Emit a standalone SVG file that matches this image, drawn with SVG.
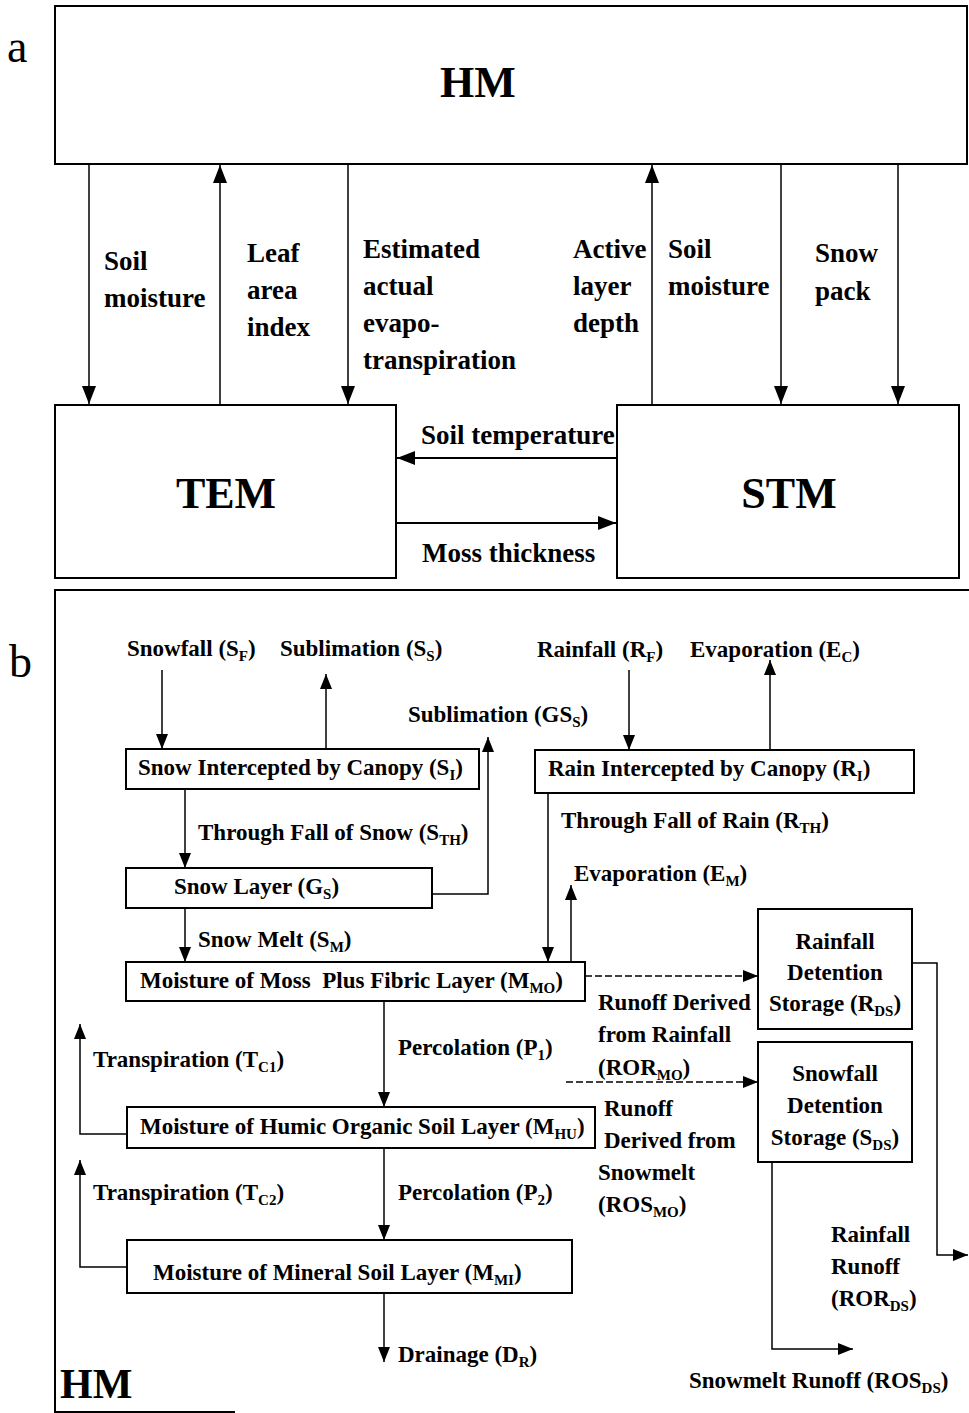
<svg xmlns="http://www.w3.org/2000/svg" width="969" height="1413" viewBox="0 0 969 1413">
<defs>
<style>
.box{fill:#fff;stroke:#000;stroke-width:2}
.ln{fill:none;stroke:#000;stroke-width:1.5}
.dash{fill:none;stroke:#000;stroke-width:1.3;stroke-dasharray:7 3}
.ta{font-family:"Liberation Serif","Times New Roman",serif;font-weight:bold;font-size:27px;fill:#000}
.tb{font-family:"Liberation Serif","Times New Roman",serif;font-weight:bold;font-size:23px;fill:#000}
.big{font-family:"Liberation Serif","Times New Roman",serif;font-weight:bold;font-size:44px;fill:#000}
.lbl{font-family:"Liberation Serif","Times New Roman",serif;font-size:46px;fill:#000}
.sub{font-size:15px}
.mid{text-anchor:middle}
</style>
<marker id="ah" markerUnits="userSpaceOnUse" markerWidth="18" markerHeight="14" refX="18" refY="7" orient="auto"><path d="M0,0 L18,7 L0,14 z" fill="#000"/></marker>
<marker id="bh" markerUnits="userSpaceOnUse" markerWidth="15" markerHeight="12" refX="15" refY="6" orient="auto"><path d="M0,0 L15,6 L0,12 z" fill="#000"/></marker>
</defs>
<rect width="969" height="1413" fill="#fff"/>

<!-- Panel labels -->
<text class="lbl" x="7" y="62">a</text>
<text class="lbl" x="9" y="677">b</text>

<!-- ===== Part a ===== -->
<g id="a-connectors">
<line class="ln" x1="89" y1="165" x2="89" y2="404" marker-end="url(#ah)"/>
<line class="ln" x1="220" y1="404" x2="220" y2="165" marker-end="url(#ah)"/>
<line class="ln" x1="348" y1="165" x2="348" y2="404" marker-end="url(#ah)"/>
<line class="ln" x1="652" y1="404" x2="652" y2="165" marker-end="url(#ah)"/>
<line class="ln" x1="781" y1="165" x2="781" y2="404" marker-end="url(#ah)"/>
<line class="ln" x1="898" y1="165" x2="898" y2="404" marker-end="url(#ah)"/>
<line class="ln" x1="616" y1="458" x2="397" y2="458" marker-end="url(#ah)" style="stroke-width:2"/>
<line class="ln" x1="397" y1="523" x2="616" y2="523" marker-end="url(#ah)" style="stroke-width:2"/>
<text class="ta" x="104" y="270">Soil</text>
<text class="ta" x="104" y="307">moisture</text>
<text class="ta" x="247" y="262">Leaf</text>
<text class="ta" x="247" y="299">area</text>
<text class="ta" x="247" y="336">index</text>
<text class="ta" x="363" y="258">Estimated</text>
<text class="ta" x="363" y="295">actual</text>
<text class="ta" x="363" y="332">evapo-</text>
<text class="ta" x="363" y="369">transpiration</text>
<text class="ta" x="573" y="258">Active</text>
<text class="ta" x="573" y="295">layer</text>
<text class="ta" x="573" y="332">depth</text>
<text class="ta" x="668" y="258">Soil</text>
<text class="ta" x="668" y="295">moisture</text>
<text class="ta" x="815" y="262">Snow</text>
<text class="ta" x="815" y="300">pack</text>
<text class="ta" x="421" y="444">Soil temperature</text>
<text class="ta" x="422" y="562">Moss thickness</text>
</g>

<g id="hm-top">
<rect class="box" x="55" y="6" width="912" height="158"/>
<text class="big mid" x="478" y="97">HM</text>
</g>
<g id="tem">
<rect class="box" x="55" y="405" width="341" height="173"/>
<text class="big mid" x="226" y="508">TEM</text>
</g>
<g id="stm">
<rect class="box" x="617" y="405" width="342" height="173"/>
<text class="big mid" x="789" y="508">STM</text>
</g>

<!-- ===== Part b ===== -->
<g id="b-frame">
<path class="ln" d="M969,590 H55 V1412 H235" style="stroke-width:2"/>
<text class="big" x="60" y="1398" style="font-size:42px">HM</text>
</g>

<g id="b-connectors">
<!-- snow -->
<line class="ln" x1="162" y1="670" x2="162" y2="749" marker-end="url(#bh)"/>
<line class="ln" x1="326" y1="749" x2="326" y2="674" marker-end="url(#bh)"/>
<polyline class="ln" points="432,894 488,894 488,737" marker-end="url(#bh)"/>
<line class="ln" x1="185" y1="789" x2="185" y2="868" marker-end="url(#bh)"/>
<line class="ln" x1="185" y1="908" x2="185" y2="962" marker-end="url(#bh)"/>
<!-- rain -->
<line class="ln" x1="629" y1="670" x2="629" y2="750" marker-end="url(#bh)"/>
<line class="ln" x1="770" y1="750" x2="770" y2="660" marker-end="url(#bh)"/>
<line class="ln" x1="548" y1="793" x2="548" y2="962" marker-end="url(#bh)"/>
<line class="ln" x1="571" y1="962" x2="571" y2="885" marker-end="url(#bh)"/>
<!-- soil -->
<line class="ln" x1="384" y1="1001" x2="384" y2="1107" marker-end="url(#bh)"/>
<line class="ln" x1="384" y1="1148" x2="384" y2="1240" marker-end="url(#bh)"/>
<line class="ln" x1="384" y1="1293" x2="384" y2="1362" marker-end="url(#bh)"/>
<polyline class="ln" points="127,1134 80,1134 80,1024" marker-end="url(#bh)"/>
<polyline class="ln" points="127,1267 80,1267 80,1160" marker-end="url(#bh)"/>
<!-- runoff -->
<line class="dash" x1="585" y1="976" x2="758" y2="976" marker-end="url(#bh)"/>
<line class="dash" x1="566" y1="1082" x2="758" y2="1082" marker-end="url(#bh)"/>
<polyline class="ln" points="912,963 937,963 937,1255 968,1255" marker-end="url(#bh)"/>
<polyline class="ln" points="772,1162 772,1349 853,1349" marker-end="url(#bh)"/>

<!-- labels -->
<text class="tb" x="127" y="656">Snowfall (S<tspan class="sub" dy="5">F</tspan><tspan dy="-5">)</tspan></text>
<text class="tb" x="280" y="656">Sublimation (S<tspan class="sub" dy="5">S</tspan><tspan dy="-5">)</tspan></text>
<text class="tb" x="408" y="722">Sublimation (GS<tspan class="sub" dy="5">S</tspan><tspan dy="-5">)</tspan></text>
<text class="tb" x="198" y="840">Through Fall of Snow (S<tspan class="sub" dy="5">TH</tspan><tspan dy="-5">)</tspan></text>
<text class="tb" x="198" y="947">Snow Melt (S<tspan class="sub" dy="5">M</tspan><tspan dy="-5">)</tspan></text>
<text class="tb" x="537" y="657">Rainfall (R<tspan class="sub" dy="5">F</tspan><tspan dy="-5">)</tspan></text>
<text class="tb" x="690" y="657">Evaporation (E<tspan class="sub" dy="5">C</tspan><tspan dy="-5">)</tspan></text>
<text class="tb" x="561" y="828">Through Fall of Rain (R<tspan class="sub" dy="5">TH</tspan><tspan dy="-5">)</tspan></text>
<text class="tb" x="574" y="881">Evaporation (E<tspan class="sub" dy="5">M</tspan><tspan dy="-5">)</tspan></text>
<text class="tb" x="398" y="1055">Percolation (P<tspan class="sub" dy="5">1</tspan><tspan dy="-5">)</tspan></text>
<text class="tb" x="398" y="1200">Percolation (P<tspan class="sub" dy="5">2</tspan><tspan dy="-5">)</tspan></text>
<text class="tb" x="93" y="1067">Transpiration (T<tspan class="sub" dy="5">C1</tspan><tspan dy="-5">)</tspan></text>
<text class="tb" x="93" y="1200">Transpiration (T<tspan class="sub" dy="5">C2</tspan><tspan dy="-5">)</tspan></text>
<text class="tb" x="398" y="1362">Drainage (D<tspan class="sub" dy="5">R</tspan><tspan dy="-5">)</tspan></text>
<text class="tb" x="598" y="1010">Runoff Derived</text>
<text class="tb" x="598" y="1042">from Rainfall</text>
<text class="tb" x="598" y="1075">(ROR<tspan class="sub" dy="5">MO</tspan><tspan dy="-5">)</tspan></text>
<text class="tb" x="604" y="1116">Runoff</text>
<text class="tb" x="604" y="1148">Derived from</text>
<text class="tb" x="598" y="1180">Snowmelt</text>
<text class="tb" x="598" y="1212">(ROS<tspan class="sub" dy="5">MO</tspan><tspan dy="-5">)</tspan></text>
<text class="tb" x="831" y="1242">Rainfall</text>
<text class="tb" x="831" y="1274">Runoff</text>
<text class="tb" x="831" y="1306">(ROR<tspan class="sub" dy="5">DS</tspan><tspan dy="-5">)</tspan></text>
<text class="tb" x="689" y="1388">Snowmelt Runoff (ROS<tspan class="sub" dy="5">DS</tspan><tspan dy="-5">)</tspan></text>
</g>

<g id="snow-canopy">
<rect class="box" x="126" y="749" width="353" height="40"/>
<text class="tb" x="138" y="775">Snow Intercepted by Canopy (S<tspan class="sub" dy="5">I</tspan><tspan dy="-5">)</tspan></text>
</g>
<g id="snow-layer">
<rect class="box" x="126" y="868" width="306" height="40"/>
<text class="tb" x="174" y="894">Snow Layer (G<tspan class="sub" dy="5">S</tspan><tspan dy="-5">)</tspan></text>
</g>
<g id="rain-canopy">
<rect class="box" x="535" y="750" width="379" height="43"/>
<text class="tb" x="548" y="776">Rain Intercepted by Canopy (R<tspan class="sub" dy="5">I</tspan><tspan dy="-5">)</tspan></text>
</g>
<g id="moss-layer">
<rect class="box" x="126" y="962" width="459" height="39"/>
<text class="tb" x="140" y="988" style="white-space:pre">Moisture of Moss  Plus Fibric Layer (M<tspan class="sub" dy="5">MO</tspan><tspan dy="-5">)</tspan></text>
</g>
<g id="humic-layer">
<rect class="box" x="127" y="1107" width="468" height="41"/>
<text class="tb" x="140" y="1134">Moisture of Humic Organic Soil Layer (M<tspan class="sub" dy="5">HU</tspan><tspan dy="-5">)</tspan></text>
</g>
<g id="mineral-layer">
<rect class="box" x="127" y="1240" width="445" height="53"/>
<text class="tb" x="153" y="1280">Moisture of Mineral Soil Layer (M<tspan class="sub" dy="5">MI</tspan><tspan dy="-5">)</tspan></text>
</g>
<g id="rain-detention">
<rect class="box" x="758" y="909" width="154" height="120"/>
<text class="tb mid" x="835" y="949">Rainfall</text>
<text class="tb mid" x="835" y="980">Detention</text>
<text class="tb mid" x="835" y="1011">Storage (R<tspan class="sub" dy="5">DS</tspan><tspan dy="-5">)</tspan></text>
</g>
<g id="snow-detention">
<rect class="box" x="758" y="1042" width="154" height="120"/>
<text class="tb mid" x="835" y="1081">Snowfall</text>
<text class="tb mid" x="835" y="1113">Detention</text>
<text class="tb mid" x="835" y="1145">Storage (S<tspan class="sub" dy="5">DS</tspan><tspan dy="-5">)</tspan></text>
</g>
</svg>
